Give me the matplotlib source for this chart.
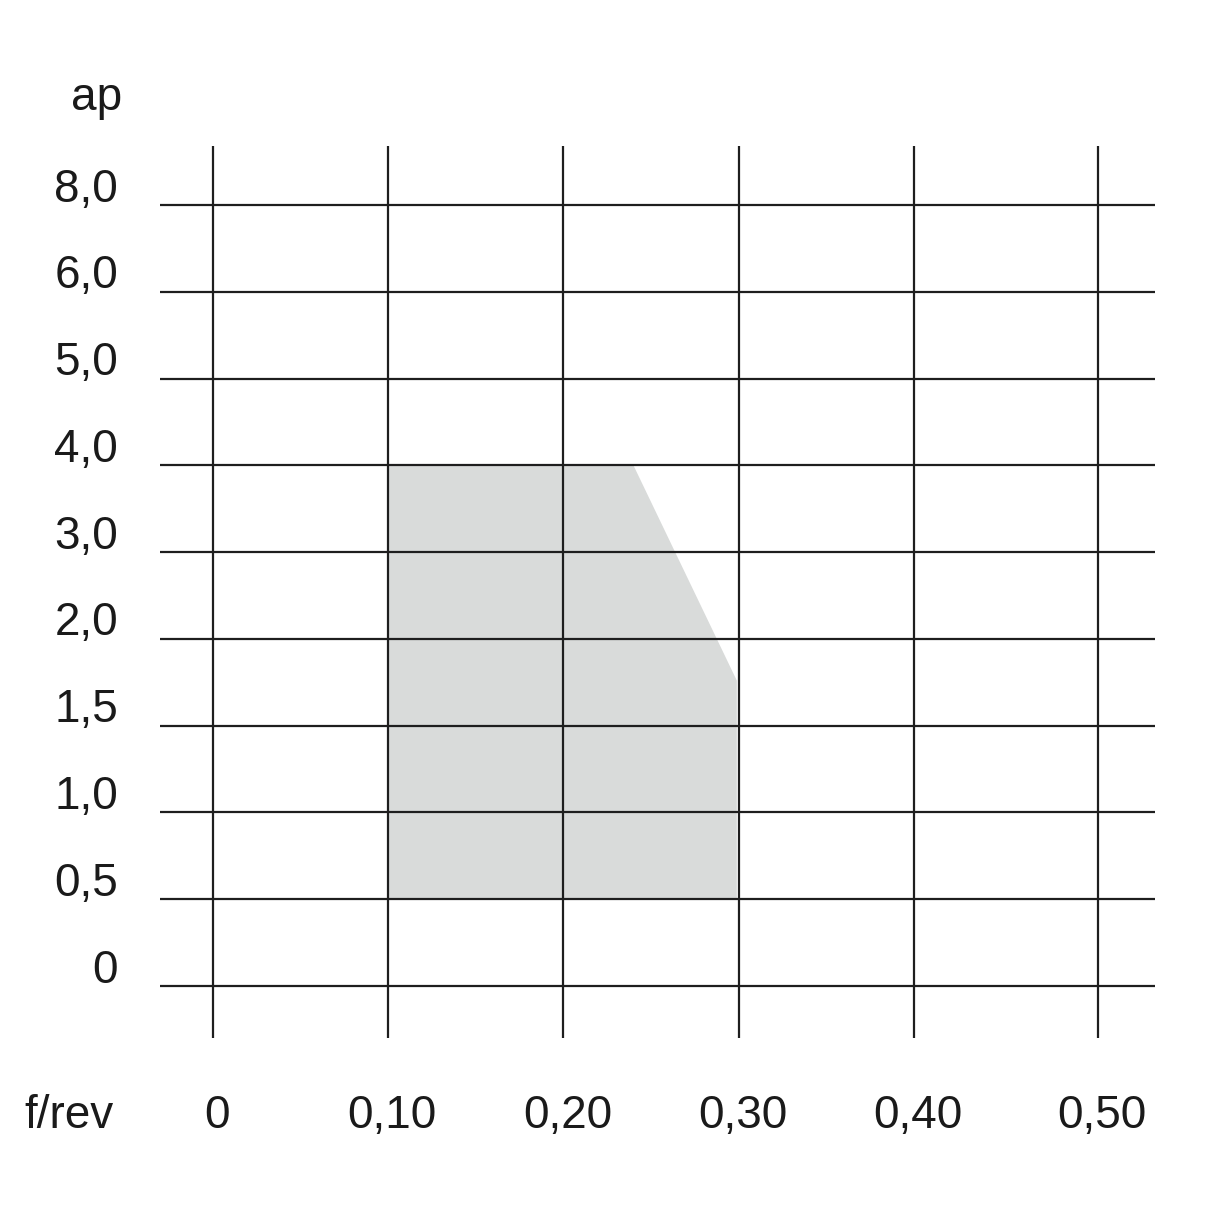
import numpy as np
import matplotlib.pyplot as plt
from matplotlib.transforms import offset_copy

plt.rcParams['font.family'] = ['Liberation Sans', 'DejaVu Sans']

# Tick values (axis is not linear, ticks are placed by index)
x_values = [0.0, 0.10, 0.20, 0.30, 0.40, 0.50]
x_labels = ['0', '0,10', '0,20', '0,30', '0,40', '0,50']
x_pos = [0, 1, 2, 3, 4, 5.05]

y_values = [0.0, 0.5, 1.0, 1.5, 2.0, 3.0, 4.0, 5.0, 6.0, 8.0]
y_labels = ['0', '0,5', '1,0', '1,5', '2,0', '3,0', '4,0', '5,0', '6,0', '8,0']
y_pos = list(range(len(y_values)))

# Application area (feed f, depth of cut ap)
area_f = [0.10, 0.10, 0.24, 0.299, 0.299]
area_ap = [0.5, 4.0, 4.0, 1.76, 0.5]


def fx(v):
    return np.interp(v, x_values, x_pos)


def fy(v):
    return np.interp(v, y_values, y_pos)


W = 1214
fig = plt.figure(figsize=(12.14, 12.14), dpi=100)
ax = fig.add_axes([160 / W, 1 - 1038 / W, (1155 - 160) / W, (1038 - 146) / W])
ax.set_xlim(-0.3025, 5.377)
ax.set_ylim(-0.599, 9.68)
ax.axis('off')

ax.fill(fx(area_f), fy(area_ap), color='#d9dbda', lw=0, zorder=1)

line_col = '#1e1e1e'
for p in y_pos:
    ax.axhline(p, color=line_col, lw=1.6, zorder=2)
for p in x_pos:
    ax.axvline(p, color=line_col, lw=1.6, zorder=2)

txt_col = '#1a1a1a'
fs = 33

# y labels, right aligned left of the grid
ytr = offset_copy(ax.get_yaxis_transform(), fig=fig, x=0, y=2.5, units='points')
for p, lab in zip(y_pos, y_labels):
    ax.text((118 - 160) / (1155 - 160), p, lab, fontsize=fs, color=txt_col,
            ha='right', va='baseline', transform=ytr)

# x labels below the grid
xtr = offset_copy(ax.get_xaxis_transform(), fig=fig, x=3, y=0, units='points')
for p, lab in zip(x_pos, x_labels):
    ax.text(p, 1 - (1128 - 146) / (1038 - 146), lab, fontsize=fs, color=txt_col,
            ha='center', va='baseline', transform=xtr)

fig.text(97 / W, 1 - 110 / W, 'ap', fontsize=fs, color=txt_col, ha='center', va='baseline')
fig.text(69 / W, 1 - 1128 / W, 'f/rev', fontsize=fs, color=txt_col, ha='center', va='baseline')

fig.savefig('out.png', dpi=100, facecolor='white')
